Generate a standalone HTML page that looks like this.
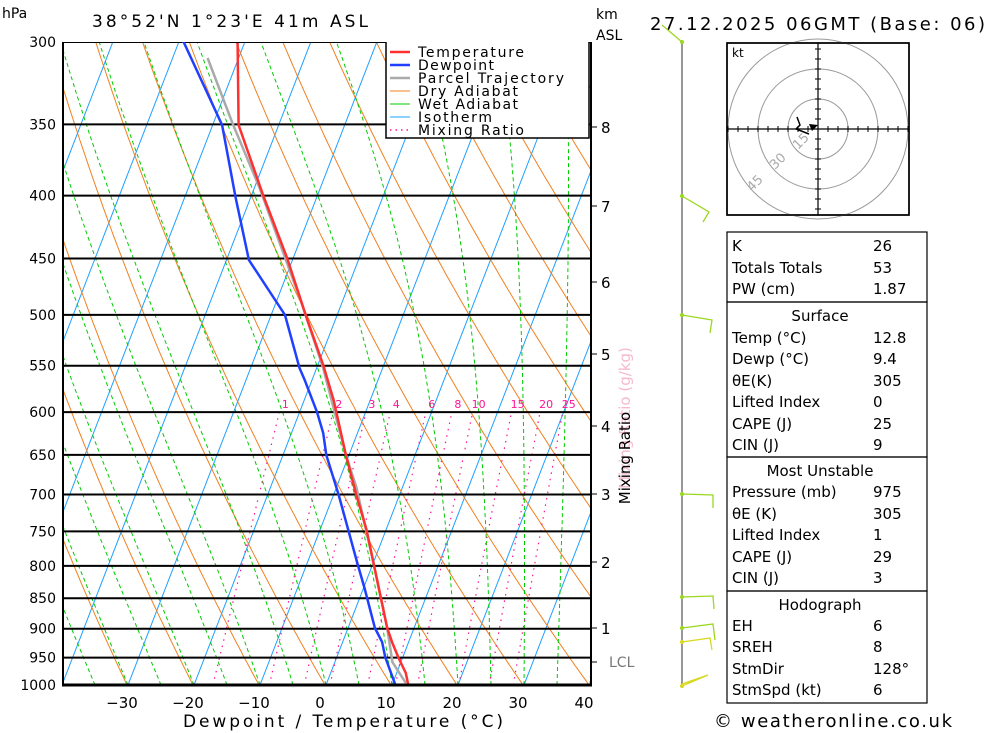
<!DOCTYPE html>
<html><head><meta charset="utf-8"><style>
body{margin:0;background:#fff;width:1000px;height:733px;overflow:hidden;font-family:"DejaVu Sans","Liberation Sans",sans-serif;}
svg{position:absolute;left:0;top:0}
</style></head><body>
<svg id="s" width="1000" height="733" xmlns="http://www.w3.org/2000/svg" font-family="DejaVu Sans, Liberation Sans, sans-serif">
<defs><clipPath id="c"><rect x="63" y="42" width="528" height="643"/></clipPath></defs>
<g id="grid" clip-path="url(#c)"></g>
<g id="prof" clip-path="url(#c)"></g>
<g id="ax"></g>
</svg>
<script>
var NS="http://www.w3.org/2000/svg";
function Y(p){return 42+643*Math.log(p/300)/Math.log(10/3);}
function X(T,p){return 326+6.6*T+0.387*(685-Y(p));}
function el(g,tag,a,txt){var e=document.createElementNS(NS,tag);for(var k in a)e.setAttribute(k,a[k]);if(txt!=null)e.textContent=txt;document.getElementById(g).appendChild(e);return e;}
function poly(g,pts,a){a.points=pts.map(function(q){return q[0].toFixed(1)+","+q[1].toFixed(1)}).join(" ");a.fill="none";return el(g,"polyline",a);}
function sc(pts){return pts.map(function(q){return [60+(q[0]-60)*1.0323,q[1]];});}
var P=[];for(var p=1000;p>=300;p-=5)P.push(p);
for(var T=-120;T<=50;T+=10){poly("grid",[[X(T,1050),Y(1050)],[X(T,250),Y(250)]],{stroke:"#1ea0ff","stroke-width":1});}
for(var th=203;th<=523;th+=10){poly("grid",P.map(function(p){return [X(th*Math.pow(p/1000,0.286)-273.15,p),Y(p)]}),{stroke:"#f08020","stroke-width":1});}
function es(t){return 6.112*Math.exp(17.67*t/(t+243.5));}
for(var t0=-40;t0<=40;t0+=5){var Tk=t0+273.15,pts=[],pp=1000;
 while(pp>=300){pts.push([X(Tk-273.15,pp),Y(pp)]);var e=es(Tk-273.15),rs=0.622*e/(pp-e);
  var d=(287*Tk+2.5e6*rs)/(pp*(1004+2.5e6*2.5e6*rs*0.622/(287*Tk*Tk)));Tk-=d*5;pp-=5;}
 poly("grid",pts,{stroke:"#00cc00","stroke-width":1,"stroke-dasharray":"4,3"});}
[1,2,3,4,6,8,10,15,20,25].forEach(function(w){var pts=[];for(var p=1000;p>=600;p-=10){var e=w*p/(622+w),l=Math.log(e/6.112);pts.push([X(243.5*l/(17.67-l),p),Y(p)]);}
 poly("grid",pts,{stroke:"#ff1493","stroke-width":1.2,"stroke-dasharray":"1.5,5"});
 var q=pts[pts.length-1];el("grid","text",{x:q[0]+6,y:408,"font-size":11,fill:"#ff1493","text-anchor":"middle"},w);});
for(var p=300;p<=1000;p+=50){el("grid","line",{x1:63,x2:591,y1:Y(p),y2:Y(p),stroke:"#000","stroke-width":2});}
var temp=[[398,688],[395,673],[388,658],[382,643],[377,628],[357,530],[347,495],[337,455],[325,400],[315,365],[298,315],[280,258],[257,196],[233,125],[232,43]];
var dew=[[386,688],[375,657],[372,642],[365,628],[355,588],[348,563],[330,495],[318,455],[315,433],[309,412],[297,380],[292,368],[278,315],[243,260],[230,197],[217,125],[178,38]];
var par=[[395,683],[382,662],[377,628],[363,560],[347,487],[337,455],[318,380],[315,368],[293,300],[253,187],[227,123],[203,58]];
poly("prof",sc(par),{stroke:"#aaa","stroke-width":2.5});
poly("prof",sc(dew),{stroke:"#2040ff","stroke-width":2.5});
poly("prof",sc(temp),{stroke:"#ff3030","stroke-width":2.5});
el("prof","rect",{x:386,y:40,width:203,height:98,fill:"#fff",stroke:"#000","stroke-width":1.5});
[["Temperature","#ff3030",2.5,106],["Dewpoint","#2040ff",2.5,76],["Parcel Trajectory","#aaa",2.5,146],["Dry Adiabat","#f08020",1,100],["Wet Adiabat","#00cc00",1,100],["Isotherm","#1ea0ff",1,74],["Mixing Ratio","#ff1493",1.5,106]].forEach(function(r,i){var y=52+i*13;
 var a={x1:390,x2:410,y1:y,y2:y,stroke:r[1],"stroke-width":r[2]};if(i==6)a["stroke-dasharray"]="1.5,4";el("prof","line",a);
 el("prof","text",{x:418,y:y+5,"font-size":14,fill:"#000",textLength:r[3],lengthAdjust:"spacing"},r[0]);});
el("ax","line",{x1:63,x2:63,y1:42,y2:686,stroke:"#000","stroke-width":2});
el("ax","line",{x1:591,x2:591,y1:42,y2:686,stroke:"#000","stroke-width":2});
el("ax","line",{x1:62,x2:592,y1:685,y2:685,stroke:"#000","stroke-width":3});
for(var p=300;p<=1000;p+=50)el("ax","text",{x:56,y:Y(p)+5,"font-size":14,"text-anchor":"end"},p);
el("ax","text",{x:2,y:18,"font-size":14},"hPa");
[-30,-20,-10,0,10,20,30,40].forEach(function(t){el("ax","text",{x:320+6.6*t,y:708,"font-size":15,"text-anchor":"middle"},(t<0?"\u2212":"")+Math.abs(t));});
el("ax","text",{x:183,y:727,"font-size":17,textLength:320,lengthAdjust:"spacing"},"Dewpoint / Temperature (\u00b0C)");
el("ax","text",{x:92,y:27,"font-size":17,textLength:276,lengthAdjust:"spacing"},"38\u00b052'N  1\u00b023'E  41m  ASL");
el("ax","text",{x:650,y:30,"font-size":18,textLength:335,lengthAdjust:"spacing"},"27.12.2025  06GMT  (Base: 06)");
el("ax","text",{x:596,y:19,"font-size":14},"km");
el("ax","text",{x:596,y:40,"font-size":14},"ASL");
[[8,127],[7,206],[6,282],[5,354],[4,426],[3,494],[2,562],[1,628]].forEach(function(k){el("ax","line",{x1:591,x2:597,y1:k[1],y2:k[1],stroke:"#000"});el("ax","text",{x:601,y:k[1]+6,"font-size":15},k[0]);});
el("ax","line",{x1:591,x2:597,y1:662,y2:662,stroke:"#000"});
el("ax","text",{x:609,y:667,"font-size":14,fill:"#777"},"LCL");
el("ax","text",{x:0,y:0,"font-size":15,fill:"#f6b8d0","text-anchor":"middle",transform:"translate(630,418) rotate(-90)"},"Mixing Ratio (g/kg)");
el("ax","text",{x:0,y:0,"font-size":15,fill:"#000","text-anchor":"middle",transform:"translate(630,458) rotate(-90)"},"Mixing Ratio");
el("ax","line",{x1:682,x2:682,y1:42,y2:688,stroke:"#777","stroke-width":1.5});
[[[682,42],[662,25]],[[682,196],[709,212],[703,222]],[[682,315],[712,320],[710,333]],[[682,494],[713,495],[713,508]],[[682,597],[713,596],[714,609]],[[682,628],[713,624],[715,640]],[[682,642],[710,638],[712,650]],[[682,686],[708,675],[682,684],[706,676]]].forEach(function(b,i){poly("ax",b,{stroke:i>5?"#d8d820":"#9ad820","stroke-width":1.3});el("ax","circle",{cx:b[0][0],cy:b[0][1],r:2,fill:i>5?"#d8d820":"#9ad820"});});
el("ax","rect",{x:727,y:43,width:182,height:172,fill:"#fff",stroke:"#000","stroke-width":1.5});
[30,60,90].forEach(function(r){el("ax","ellipse",{cx:818,cy:129,rx:r,ry:r,fill:"none",stroke:"#999"});});
el("ax","rect",{x:727,y:43,width:182,height:172,fill:"none",stroke:"#000","stroke-width":1.5});
el("ax","line",{x1:727,x2:909,y1:129,y2:129,stroke:"#000","stroke-width":1.2});
el("ax","line",{x1:818,x2:818,y1:43,y2:215,stroke:"#000","stroke-width":1.2});
for(var i=-9;i<=9;i++){if(!i)continue;el("ax","line",{x1:818+i*10,x2:818+i*10,y1:126,y2:132,stroke:"#000"});if(Math.abs(i)<9)el("ax","line",{x1:815,x2:821,y1:129+i*10,y2:129+i*10,stroke:"#000"});}
el("ax","text",{x:732,y:57,"font-size":12},"kt");
[["15",798,150],["30",775,170],["45",752,192]].forEach(function(t){el("ax","text",{x:0,y:0,"font-size":13,fill:"#aaa",transform:"translate("+t[1]+","+t[2]+") rotate(-45)"},t[0]);});
poly("ax",[[797,117],[800,125],[796,129],[809,134]],{stroke:"#000","stroke-width":1.5});
el("ax","polygon",{points:"809,124 818,125 812,131",fill:"#000"});
[[232,302],[302,457],[457,591],[591,703]].forEach(function(b){el("ax","rect",{x:727,y:b[0],width:200,height:b[1]-b[0],fill:"none",stroke:"#000","stroke-width":1.2});});
var rows=[["K","26",246],["Totals Totals","53",268],["PW (cm)","1.87",289],["#Surface","",316],["Temp (\u00b0C)","12.8",338],["Dewp (\u00b0C)","9.4",359],["\u03b8E(K)","305",381],["Lifted Index","0",402],["CAPE (J)","25",424],["CIN (J)","9",445],["#Most Unstable","",471],["Pressure (mb)","975",492],["\u03b8E (K)","305",514],["Lifted Index","1",535],["CAPE (J)","29",557],["CIN (J)","3",578],["#Hodograph","",605],["EH","6",626],["SREH","8",647],["StmDir","128\u00b0",669],["StmSpd (kt)","6",690]];
rows.forEach(function(r){if(r[0][0]=="#")el("ax","text",{x:820,y:r[2]+5,"font-size":15,"text-anchor":"middle"},r[0].slice(1));else{el("ax","text",{x:732,y:r[2]+5,"font-size":15},r[0]);el("ax","text",{x:873,y:r[2]+5,"font-size":15},r[1]);}});
el("ax","text",{x:714,y:727,"font-size":18,textLength:238,lengthAdjust:"spacing"},"\u00a9 weatheronline.co.uk");
</script>
</body></html>
